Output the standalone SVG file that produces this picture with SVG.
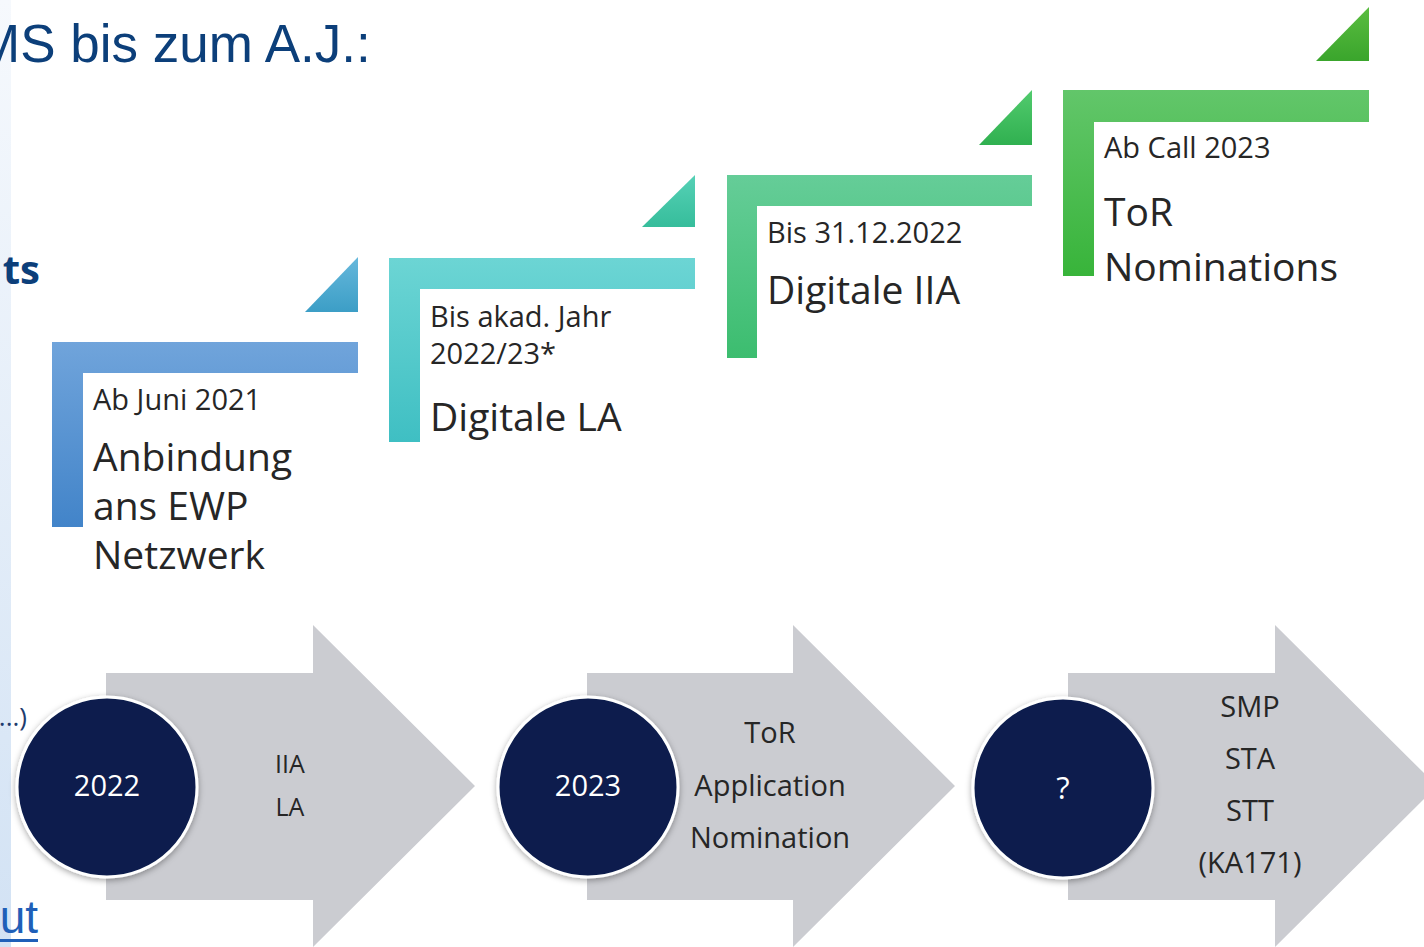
<svg xmlns="http://www.w3.org/2000/svg" width="1424" height="947" viewBox="0 0 1424 947">
<defs>
<linearGradient id="strip" x1="0" y1="0" x2="0" y2="1"><stop offset="0" stop-color="#f6f9fd"/><stop offset="1" stop-color="#d2e2f4"/></linearGradient>
<linearGradient id="g1" x1="0" y1="0" x2="0" y2="1"><stop offset="0" stop-color="#70a4db"/><stop offset="1" stop-color="#4284c9"/></linearGradient>
<linearGradient id="t1" x1="0" y1="0" x2="0" y2="1"><stop offset="0" stop-color="#66b8dc"/><stop offset="1" stop-color="#3c9ec6"/></linearGradient>
<linearGradient id="g2" x1="0" y1="0" x2="0" y2="1"><stop offset="0" stop-color="#6cd5d4"/><stop offset="1" stop-color="#3fbfc3"/></linearGradient>
<linearGradient id="t2" x1="0" y1="0" x2="0" y2="1"><stop offset="0" stop-color="#56d1b6"/><stop offset="1" stop-color="#36bd9b"/></linearGradient>
<linearGradient id="g3" x1="0" y1="0" x2="0" y2="1"><stop offset="0" stop-color="#65cd98"/><stop offset="1" stop-color="#3cbd6f"/></linearGradient>
<linearGradient id="t3" x1="0" y1="0" x2="0" y2="1"><stop offset="0" stop-color="#52cb6e"/><stop offset="1" stop-color="#30b050"/></linearGradient>
<linearGradient id="g4" x1="0" y1="0" x2="0" y2="1"><stop offset="0" stop-color="#62c66a"/><stop offset="1" stop-color="#38b43a"/></linearGradient>
<linearGradient id="t4" x1="0" y1="0" x2="0" y2="1"><stop offset="0" stop-color="#5abd40"/><stop offset="1" stop-color="#3aa52c"/></linearGradient>
<filter id="sh" x="-20%" y="-20%" width="140%" height="140%"><feDropShadow dx="0" dy="2" stdDeviation="3" flood-color="#000" flood-opacity="0.35"/></filter>
</defs>
<style>
.lbl{font-family:"Open Sans","Noto Sans",sans-serif;fill:#262626}
.sm{font-size:29px}
.lg{font-size:39px}
.arr{fill:#cbccd1}
.circ{fill:#0d1f4e;stroke:#ffffff;stroke-width:3}
.ct{font-family:"Open Sans","Noto Sans",sans-serif;font-size:29px;fill:#ffffff;text-anchor:middle}
.at{font-family:"Open Sans","Noto Sans",sans-serif;font-size:29px;fill:#262626;text-anchor:middle}
</style>
<rect x="0" y="0" width="1424" height="947" fill="#ffffff"/>
<rect x="0" y="0" width="11" height="947" fill="url(#strip)"/>
<g id="background-text">
<text x="-24" y="62" font-family="Liberation Sans, Arial, sans-serif" font-size="53" fill="#0c3f7a">MS bis zum A.J.:</text>
<text x="40" y="284" text-anchor="end" font-family="Open Sans, sans-serif" font-weight="bold" font-size="40" fill="#0c3f7a">ts</text>
<text x="27" y="726" text-anchor="end" font-family="Open Sans, sans-serif" font-size="26" fill="#1f3c6e">...)</text>
<text x="38" y="933" text-anchor="end" font-family="Liberation Sans, Arial, sans-serif" font-size="46" fill="#1f5fb8">ut</text>
<rect x="0" y="939" width="38" height="3" fill="#1f5fb8"/>
</g>
<g id="step1">
<path d="M52,342 H358 V373 H83 V527 H52 Z" fill="url(#g1)"/>
<path d="M305,312 L358,257 V312 Z" fill="url(#t1)"/>
<text class="lbl sm" x="93" y="410">Ab Juni 2021</text>
<text class="lbl lg" x="93" y="471">Anbindung</text>
<text class="lbl lg" x="93" y="520">ans EWP</text>
<text class="lbl lg" x="93" y="569">Netzwerk</text>
</g>
<g id="step2">
<path d="M389,258 H695 V289 H420 V442 H389 Z" fill="url(#g2)"/>
<path d="M642,227 L695,175 V227 Z" fill="url(#t2)"/>
<text class="lbl sm" x="430" y="327">Bis akad. Jahr</text>
<text class="lbl sm" x="430" y="364">2022/23*</text>
<text class="lbl lg" x="430" y="431">Digitale LA</text>
</g>
<g id="step3">
<path d="M727,175 H1032 V206 H757 V358 H727 Z" fill="url(#g3)"/>
<path d="M979,145 L1032,90 V145 Z" fill="url(#t3)"/>
<text class="lbl sm" x="767" y="243">Bis 31.12.2022</text>
<text class="lbl lg" x="767" y="304">Digitale IIA</text>
</g>
<g id="step4">
<path d="M1063,90 H1369 V122 H1094 V276 H1063 Z" fill="url(#g4)"/>
<path d="M1316,61 L1369,7 V61 Z" fill="url(#t4)"/>
<text class="lbl sm" x="1104" y="158">Ab Call 2023</text>
<text class="lbl lg" x="1104" y="226">ToR</text>
<text class="lbl lg" x="1104" y="281">Nominations</text>
</g>
<g id="connectors">
<path class="arr" d="M106,673 H313 V625 L475,786 L313,947 V900 H106 Z"/>
<path class="arr" d="M587,673 H793 V625 L955,786 L793,947 V900 H587 Z"/>
<path class="arr" d="M1068,673 H1275 V625 L1437,786 L1275,947 V900 H1068 Z"/>
</g>
<g id="phase2022">
<circle class="circ" cx="107" cy="787" r="90" filter="url(#sh)"/>
<text class="ct" x="107" y="796">2022</text>
<text class="at" x="290" y="773" style="font-size:25px">IIA</text>
<text class="at" x="290" y="816" style="font-size:25px">LA</text>
</g>
<g id="phase2023">
<circle class="circ" cx="588" cy="787" r="90" filter="url(#sh)"/>
<text class="ct" x="588" y="796">2023</text>
<text class="at" x="770" y="743">ToR</text>
<text class="at" x="770" y="796">Application</text>
<text class="at" x="770" y="848">Nomination</text>
</g>
<g id="phaseFuture">
<circle class="circ" cx="1063" cy="788" r="90" filter="url(#sh)"/>
<text class="ct" x="1063" y="799" style="font-size:31px">?</text>
<text class="at" x="1250" y="717">SMP</text>
<text class="at" x="1250" y="769">STA</text>
<text class="at" x="1250" y="821">STT</text>
<text class="at" x="1250" y="873">(KA171)</text>
</g>
</svg>
